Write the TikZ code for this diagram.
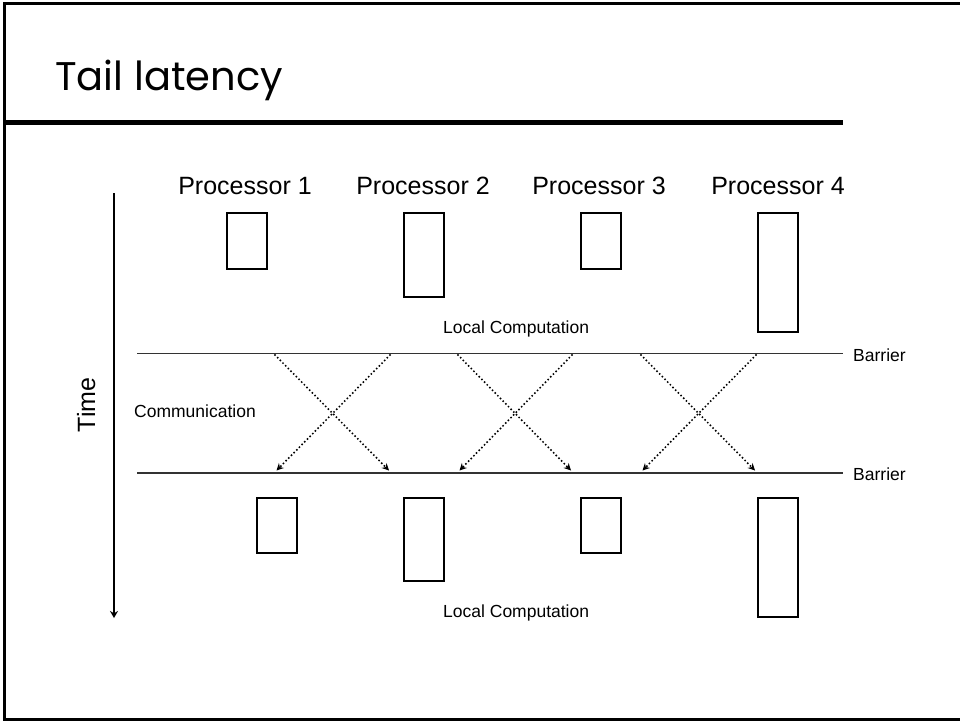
\documentclass[tikz,border=0pt]{standalone}
\usepackage{fontspec}
\setmainfont{Liberation Sans}
\newfontfamily\titlefont{Poppins}
\usetikzlibrary{arrows.meta}
\begin{document}
\begin{tikzpicture}[x=1pt,y=-1pt,
  procbox/.style={draw=black, line width=1.8pt, inner sep=0pt, minimum width=40pt, anchor=north west},
  proclabel/.style={font=\fontsize{25}{30}\selectfont, inner sep=0pt, anchor=base},
  smalllabel/.style={font=\fontsize{17.5}{21}\selectfont, inner sep=0pt, text=black, anchor=base west},
  barrierline/.style={line width=1.6pt, draw=black!80},
  msg/.style={line width=2.2pt, line cap=round, dash pattern=on 0pt off 3.8pt,
              -{Stealth[length=7pt,width=7pt]}},
]
\useasboundingbox (0,0) rectangle (960,721);

% slide frame and title rule
\draw[line width=2.8pt] (960,3.5) -- (4.8,3.5) -- (4.8,719.8) -- (960,719.8);
\draw[line width=5pt] (4.8,122.5) -- (843,122.5);
\node[anchor=base west, inner sep=0pt, font=\titlefont\fontsize{40}{48}\selectfont] (title) at (55,90) {Tail latency};

% processor headings
\node[proclabel] (h1) at (245,194) {Processor 1};
\node[proclabel] (h2) at (423,194) {Processor 2};
\node[proclabel] (h3) at (599,194) {Processor 3};
\node[proclabel] (h4) at (778,194) {Processor 4};

% first computation phase
\node[procbox, minimum height=56pt]  (a1) at (226,212) {};
\node[procbox, minimum height=84pt]  (a2) at (403,212) {};
\node[procbox, minimum height=56pt]  (a3) at (580,212) {};
\node[procbox, minimum height=119pt] (a4) at (757,212) {};
\node[smalllabel] (lc1) at (443,333) {Local Computation};

% barriers
\node[smalllabel] (bar1) at (853,361) {Barrier};
\node[smalllabel] (bar2) at (853,480) {Barrier};
\coordinate (b1s) at (137,353.5);
\coordinate (b1e) at (843,353.5);
\coordinate (b2s) at (137,473);
\coordinate (b2e) at (843,473);
\draw[barrierline] (b1s) -- (b1e);
\draw[barrierline] (b2s) -- (b2e);

% communication phase
\node[smalllabel] (comm) at (134,417) {Communication};
\foreach \l/\r [count=\i] in {275/390, 458/572, 641/756} {
  \coordinate (s\i l) at (\l,355);
  \coordinate (s\i r) at (\r,355);
  \coordinate (e\i l) at (\l+1.5,470.5);
  \coordinate (e\i r) at (\r-1,470.5);
  \draw[msg] (s\i l) -- (e\i r);
  \draw[msg] (s\i r) -- (e\i l);
}

% second computation phase
\node[procbox, minimum height=55pt]  (c1) at (256,497) {};
\node[procbox, minimum height=83pt]  (c2) at (403,497) {};
\node[procbox, minimum height=55pt]  (c3) at (580,497) {};
\node[procbox, minimum height=119pt] (c4) at (757,497) {};
\node[smalllabel] (lc2) at (443,617) {Local Computation};

% time axis
\coordinate (t0) at (114,193);
\coordinate (t1) at (114,618);
\draw[line width=1.7pt, -{Stealth[length=7pt,width=8pt]}] (t0) -- (t1);
\node[font=\fontsize{25}{30}\selectfont, inner sep=0pt, anchor=base, rotate=90] (time) at (95,405) {Time};
\end{tikzpicture}
\end{document}
